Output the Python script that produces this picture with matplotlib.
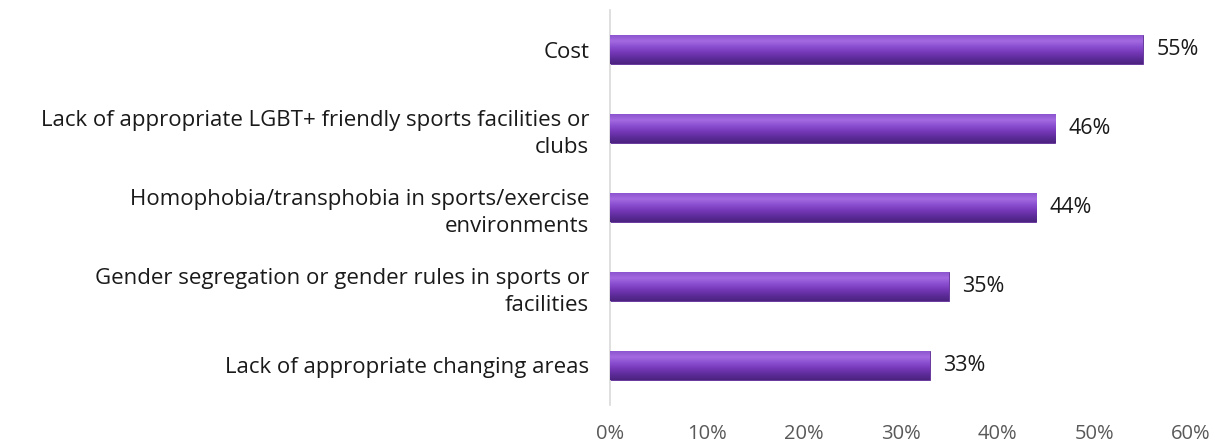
import matplotlib.pyplot as plt
import numpy as np
from matplotlib.colors import LinearSegmentedColormap

categories = [
    "Cost",
    "Lack of appropriate LGBT+ friendly sports facilities or\nclubs",
    "Homophobia/transphobia in sports/exercise\nenvironments",
    "Gender segregation or gender rules in sports or\nfacilities",
    "Lack of appropriate changing areas",
]
values = [55, 46, 44, 35, 33]
xticks = [0, 10, 20, 30, 40, 50, 60]

plt.rcParams.update({
    "font.family": ["Open Sans", "DejaVu Sans"],
})

fig = plt.figure(figsize=(12.15, 4.45), dpi=100)
ax = fig.add_axes([610 / 1215, 40 / 445, 581 / 1215, 395 / 445])

y = np.arange(len(categories))
bars = ax.barh(y, values, height=0.36, color="#7A3DBD", edgecolor="#5B2B92", lw=0.6)

# shaded tube look
cmap = LinearSegmentedColormap.from_list(
    "tube", ["#8C55CF", "#A46AE0", "#8A4FD0", "#7538B8", "#5E2C9A", "#4B2380"])
grad = np.linspace(0, 1, 64).reshape(-1, 1)
for b in bars:
    x0, y0 = b.get_x(), b.get_y()
    w, h = b.get_width(), b.get_height()
    im = ax.imshow(grad, cmap=cmap, aspect="auto", extent=(x0, x0 + w, y0 + h, y0),
                   zorder=3, interpolation="bicubic")
    im.set_clip_path(b)
    ax.text(w + 1.4, b.get_y() + h / 2, f"{w}%", va="center", ha="left",
            fontsize=15.5, color="#1A1A1A")

ax.set_ylim(len(categories) - 0.5, -0.5)
ax.set_xlim(0, 60)
ax.set_yticks(y)
ax.set_yticklabels(categories, fontsize=16, color="#1A1A1A", ha="right",
                   linespacing=1.35)
ax.set_xticks(xticks)
ax.set_xticklabels([f"{t}%" for t in xticks], fontsize=14.5, color="#595959")
ax.tick_params(axis="y", length=0, pad=15)
ax.tick_params(axis="x", length=0, pad=14)
for s in ("top", "right", "bottom"):
    ax.spines[s].set_visible(False)
ax.spines["left"].set_color("#D9D9D9")
ax.spines["left"].set_linewidth(1.2)

fig.savefig("out.png", dpi=100)
